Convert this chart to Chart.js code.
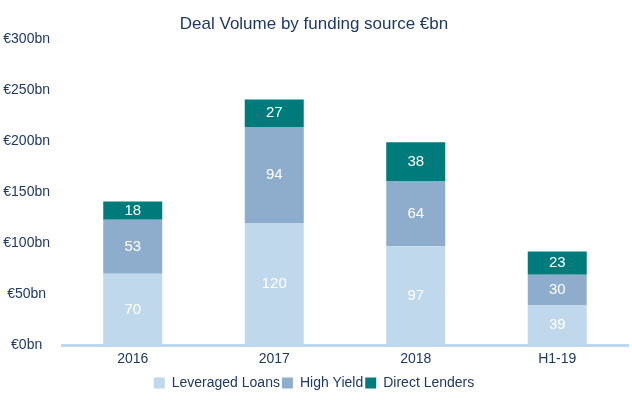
<!DOCTYPE html>
<html>
<head>
<meta charset="utf-8">
<script src="https://cdn.jsdelivr.net/npm/chart.js@4"></script>
<style>
  html, body { margin: 0; padding: 0; background: #fff; }
  #wrap { width: 632px; height: 400px; }
</style>
</head>
<body>
<div id="wrap"><canvas id="myChart"></canvas></div>
<script>
const categories = ['2016', '2017', '2018', 'H1-19'];
const leveragedLoans = [70, 120, 97, 39];
const highYield = [53, 94, 64, 30];
const directLenders = [18, 27, 38, 23];

const navy = '#1f3864';
const fontFamily = '"Liberation Sans", Arial, sans-serif';

// Write the value in white in the middle of each segment
const valueLabels = {
  id: 'valueLabels',
  afterDatasetsDraw(chart) {
    const ctx = chart.ctx;
    ctx.save();
    ctx.font = '15px ' + fontFamily;
    ctx.fillStyle = '#ffffff';
    ctx.textAlign = 'center';
    ctx.textBaseline = 'middle';
    chart.data.datasets.forEach((ds, i) => {
      chart.getDatasetMeta(i).data.forEach((bar, j) => {
        const mid = (bar.y + bar.base) / 2;
        ctx.fillText(ds.data[j], bar.x, mid);
      });
    });
    ctx.restore();
  }
};

const ctx = document.getElementById('myChart').getContext('2d');
new Chart(ctx, {
  type: 'bar',
  data: {
    labels: categories,
    datasets: [
      { label: 'Leveraged Loans', data: leveragedLoans, backgroundColor: '#bfd8eb' },
      { label: 'High Yield', data: highYield, backgroundColor: '#8eadcc' },
      { label: 'Direct Lenders', data: directLenders, backgroundColor: '#007b7b' }
    ]
  },
  options: {
    responsive: true,
    maintainAspectRatio: false,
    animation: false,
    datasets: { bar: { barPercentage: 0.417, categoryPercentage: 1 } },
    layout: { padding: { top: 0, right: 4, left: 0, bottom: 0 } },
    plugins: {
      title: {
        display: true,
        text: 'Deal Volume by funding source €bn',
        color: navy,
        font: { family: fontFamily, size: 17, weight: 'normal' },
        padding: { top: 14, bottom: 5 }
      },
      legend: {
        position: 'bottom',
        labels: {
          color: navy,
          boxWidth: 11,
          boxHeight: 11,
          padding: 2,
          font: { family: fontFamily, size: 14 }
        }
      },
      tooltip: { enabled: false }
    },
    scales: {
      x: {
        stacked: true,
        grid: { display: false, drawTicks: false },
        border: { color: '#bdd7ee', width: 3 },
        ticks: {
          color: navy,
          padding: 6,
          font: { family: fontFamily, size: 14 }
        }
      },
      y: {
        stacked: true,
        min: 0,
        max: 300,
        afterFit: scale => { scale.width = 62; },
        grid: { display: false, drawTicks: false },
        border: { display: false },
        ticks: {
          stepSize: 50,
          color: navy,
          crossAlign: 'center',
          padding: 12,
          callback: v => '€' + v + 'bn',
          font: { family: fontFamily, size: 14 }
        }
      }
    }
  },
  plugins: [valueLabels]
});
</script>
</body>
</html>
